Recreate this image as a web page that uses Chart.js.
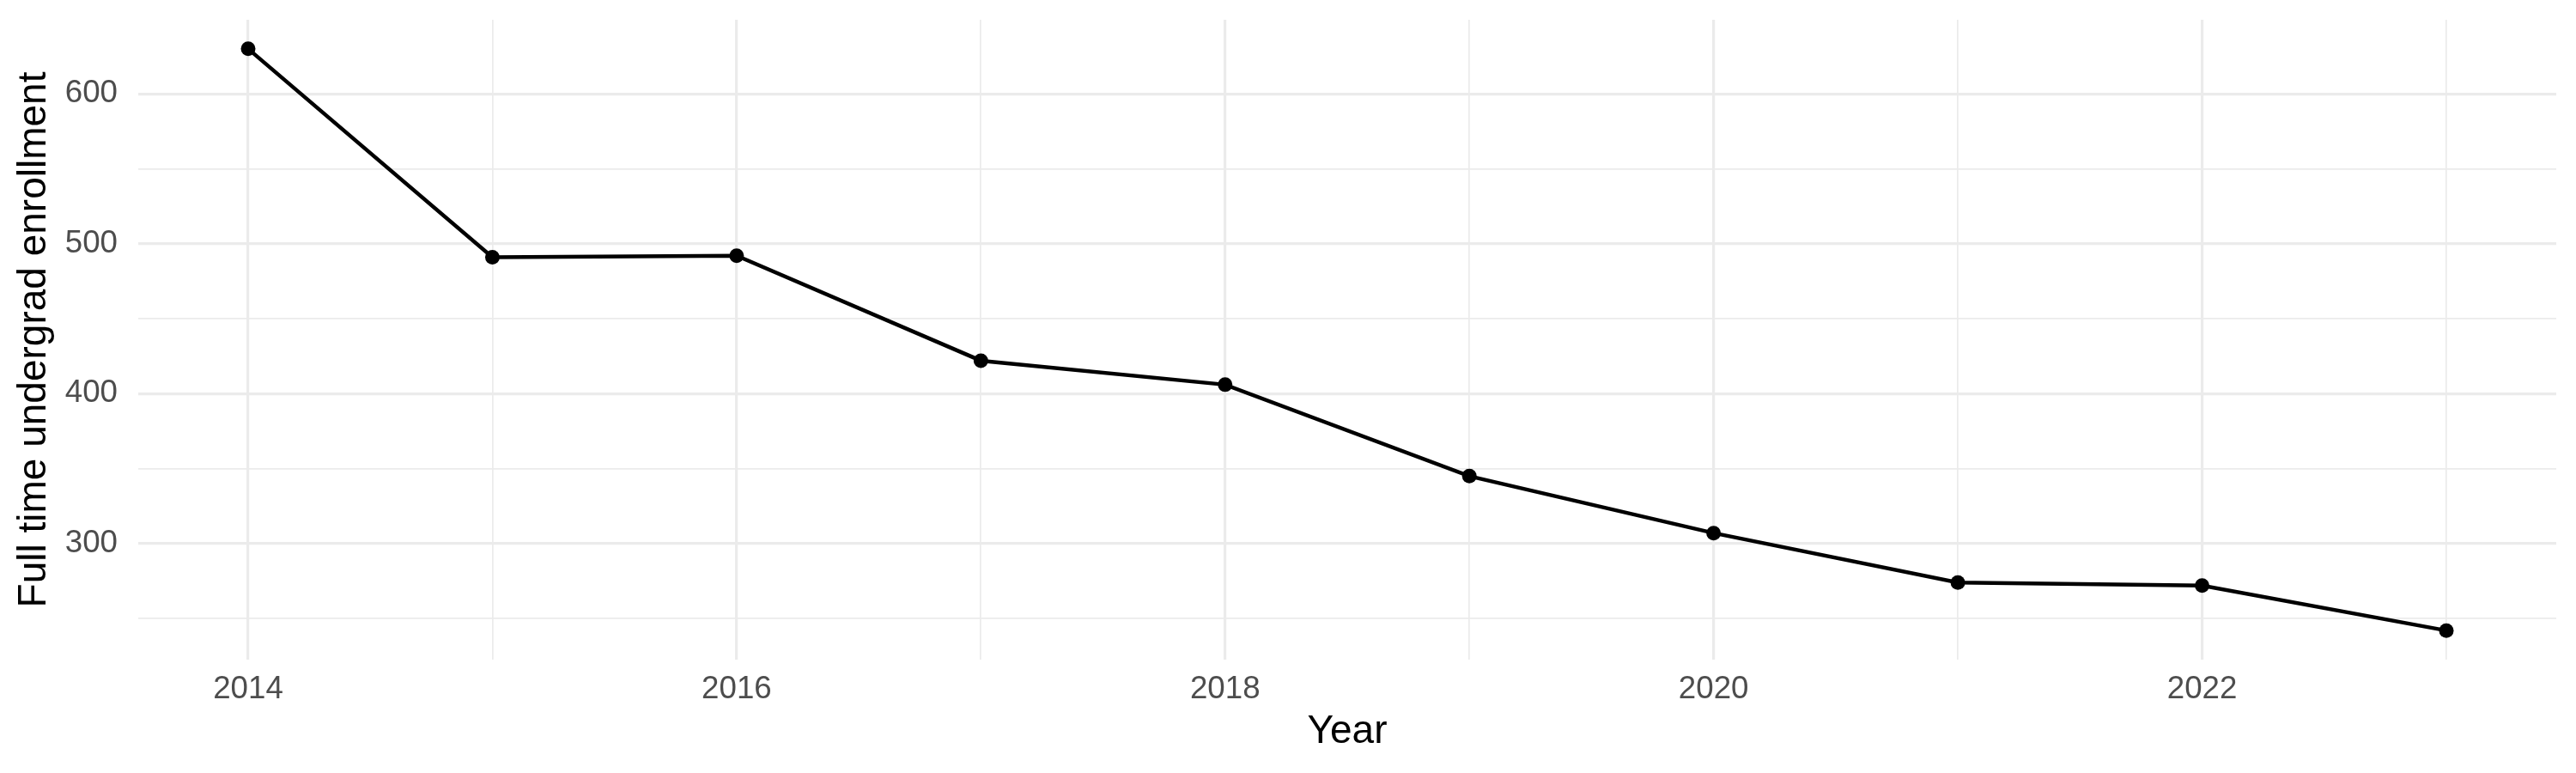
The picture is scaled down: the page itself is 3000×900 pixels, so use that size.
<!DOCTYPE html>
<html>
<head>
<meta charset="utf-8">
<script src="https://cdn.jsdelivr.net/npm/chart.js@4"></script>
<style>
  html, body { margin: 0; padding: 0; background: #ffffff; }
  #wrap { width: 3000px; height: 900px; }
</style>
</head>
<body>
<div id="wrap"><canvas id="myChart"></canvas></div>
<script>
// enrollment per year
const years = [2014, 2015, 2016, 2017, 2018, 2019, 2020, 2021, 2022, 2023];
const enrollment = [630, 491, 492, 422, 406, 345, 307, 274, 272, 242];

// grid positions (major + minor) as in the original
const xTicks = [2014, 2015, 2016, 2017, 2018, 2019, 2020, 2021, 2022, 2023];
const yTicks = [250, 300, 350, 400, 450, 500, 550, 600];

const GRID = '#EBEBEB';
const FONT = '"Liberation Sans", Arial, Helvetica, sans-serif';

// 5% padding on both sides like ggplot does
const xSpan = Math.max(...years) - Math.min(...years);
const ySpan = Math.max(...enrollment) - Math.min(...enrollment);

const ctx = document.getElementById('myChart').getContext('2d');
new Chart(ctx, {
    type: 'line',
    data: {
        datasets: [{
            label: 'Full time undergrad enrollment',
            data: years.map((yr, i) => ({x: yr, y: enrollment[i]})),
            borderColor: '#000000',
            backgroundColor: '#000000',
            borderWidth: 4.5,
            pointRadius: 8.5,
            pointHoverRadius: 8.5,
            pointBorderWidth: 0,
            tension: 0
        }]
    },
    options: {
        responsive: true,
        maintainAspectRatio: false,
        devicePixelRatio: 1,
        animation: false,
        layout: {padding: {top: 23, right: 23, left: 0, bottom: 0}},
        plugins: {
            legend: {display: false},
            tooltip: {enabled: false}
        },
        scales: {
            x: {
                type: 'linear',
                min: Math.min(...years) - xSpan * 0.05,
                max: Math.max(...years) + xSpan * 0.05,
                afterBuildTicks: (scale) => {
                    scale.ticks = xTicks.map(v => ({value: v}));
                },
                afterFit: (scale) => {
                    scale.height = 132;
                    scale.paddingLeft = 0;
                    scale.paddingRight = 0;
                },
                border: {display: false},
                grid: {
                    color: GRID,
                    drawTicks: false,
                    lineWidth: (c) => (c.tick && c.tick.value % 2 === 0) ? 3.2 : 1.7
                },
                ticks: {
                    autoSkip: false,
                    maxRotation: 0,
                    padding: 13,
                    color: '#4D4D4D',
                    font: {family: FONT, size: 36.7},
                    callback: (v) => (v % 2 === 0 ? String(v) : '')
                },
                title: {
                    display: true,
                    text: 'Year',
                    color: '#000000',
                    font: {family: FONT, size: 46},
                    padding: {top: 0, bottom: 20}
                }
            },
            y: {
                type: 'linear',
                min: Math.min(...enrollment) - ySpan * 0.05,
                max: Math.max(...enrollment) + ySpan * 0.05,
                afterBuildTicks: (scale) => {
                    scale.ticks = yTicks.map(v => ({value: v}));
                },
                afterFit: (scale) => {
                    scale.width = 161;
                    // no extra room for half a label above/below the plot
                    scale.paddingTop = 0;
                    scale.paddingBottom = 0;
                },
                border: {display: false},
                grid: {
                    color: GRID,
                    drawTicks: false,
                    lineWidth: (c) => (c.tick && c.tick.value % 100 === 0) ? 3.2 : 1.7
                },
                ticks: {
                    autoSkip: false,
                    padding: 24,
                    color: '#4D4D4D',
                    font: {family: FONT, size: 36.7},
                    callback: (v) => (v % 100 === 0 ? String(v) : '')
                },
                title: {
                    display: true,
                    text: 'Full time undergrad enrollment',
                    color: '#000000',
                    font: {family: FONT, size: 46},
                    padding: {top: 13, bottom: 0}
                }
            }
        }
    }
});
</script>
</body>
</html>
